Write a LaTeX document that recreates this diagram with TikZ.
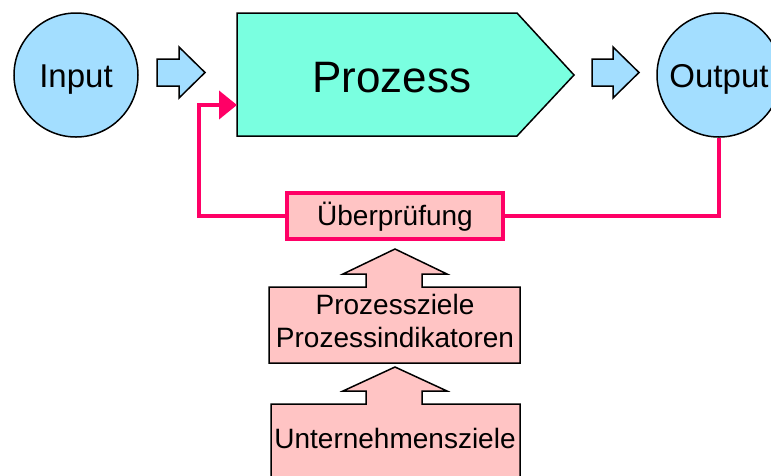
\documentclass[tikz,border=0pt]{standalone}
\usepackage{fontspec}
\setmainfont{Liberation Sans}
\usetikzlibrary{arrows.meta}
\definecolor{ioblue}{RGB}{163,222,255}
\definecolor{procgreen}{RGB}{122,255,224}
\definecolor{goalpink}{RGB}{255,196,196}
\definecolor{looprose}{RGB}{255,0,102}

\begin{document}
\begin{tikzpicture}[x=1pt,y=-1pt,
  outline/.style={draw=black,line width=1.5pt,line join=miter},
  io/.style={circle,outline,fill=ioblue,minimum size=124pt,inner sep=0pt,
    font=\fontsize{33}{33}\selectfont,text height=30pt,text depth=6pt},
  blockarrow/.style={outline,fill=ioblue},
  goalshape/.style={outline,fill=goalpink},
  bigtext/.style={font=\fontsize{44}{44}\selectfont,inner sep=0pt,anchor=base},
  smalltext/.style={font=\fontsize{28}{33}\selectfont,inner sep=0pt},
  checkbox/.style={rectangle,draw=looprose,line width=4pt,fill=goalpink,
    minimum width=216pt,minimum height=46pt,inner sep=0pt,
    font=\fontsize{28}{33}\selectfont,text height=24pt,text depth=6pt},
  feedback/.style={draw=looprose,line width=4pt,line join=miter}
]
\useasboundingbox (0,0) rectangle (771,475);
\clip (0,0) rectangle (771,475);

% input and output
\node[io] (in) at (76,75) {Input};
\node[io] (out) at (719,75) {Output};

% block arrows left and right of the process
\draw[blockarrow] (157,59) -- (179,59) -- (179,47) -- (205,72.5) -- (179,98)
  -- (179,86) -- (157,86) -- cycle;
\draw[blockarrow] (592,59) -- (613,59) -- (613,47) -- (639,72.5) -- (613,98)
  -- (613,86) -- (592,86) -- cycle;

% process chevron
\draw[outline,fill=procgreen] (237,13) -- (517,13) -- (574,75) -- (517,136)
  -- (237,136) -- cycle;
\node[bigtext] (proz) at (392,92) {Prozess};
\coordinate (procin) at (237,105);

% review box and feedback loop
\node[checkbox] (chk) at (395,216) {Überprüfung};
\coordinate (back) at (199,105);
\draw[feedback] (out.south) |- (chk.east);
\draw[feedback,-{Triangle[length=18pt,width=28pt]}] (chk.west) -| (back) -- (procin);

% process goals with upward arrow
\draw[goalshape] (395,249) -- (447,274) -- (422,274) -- (422,287) -- (520,287)
  -- (520,363) -- (269,363) -- (269,287) -- (366,287) -- (366,274)
  -- (343,274) -- cycle;
\node[smalltext,align=center] (goals) at (395,321.3)
  {Prozessziele\\Prozessindikatoren};

% company goals with upward arrow
\draw[goalshape] (395,367) -- (447,391) -- (422,391) -- (422,404) -- (520,404)
  -- (520,490) -- (271,490) -- (271,404) -- (366,404) -- (366,391)
  -- (343,391) -- cycle;
\node[smalltext,anchor=base] (corp) at (395,448) {Unternehmensziele};
\end{tikzpicture}
\end{document}
